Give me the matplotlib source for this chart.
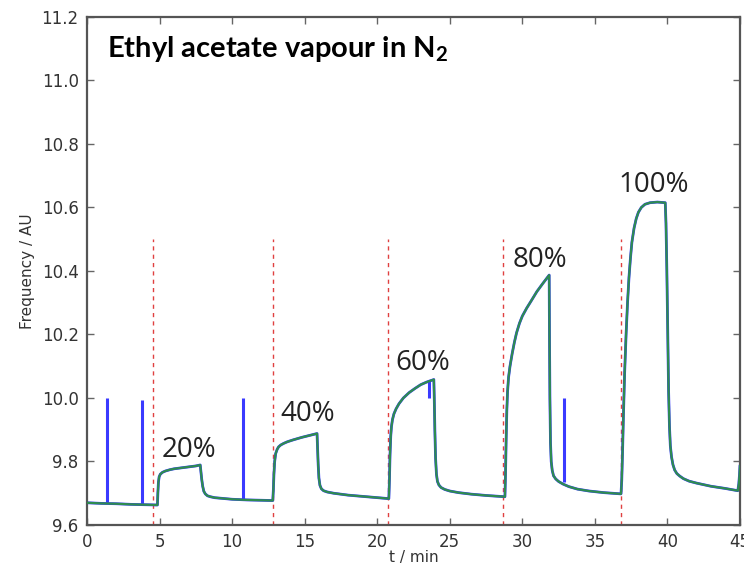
import matplotlib
matplotlib.use("Agg")
import matplotlib.pyplot as plt
import numpy as np

# frequency trace (t in min, frequency in AU)
t_trace = [0.0, 1.0, 2.0, 3.0, 4.0, 4.85,
           4.88, 4.92, 4.97, 5.05, 5.2, 5.4, 5.7, 6.0, 6.5, 7.0, 7.5, 7.8,
           7.84, 7.9, 7.97, 8.05, 8.15, 8.3, 8.5, 8.8, 9.3, 10.0, 11.0, 12.0, 12.8,
           12.84, 12.88, 12.93, 13.0, 13.1, 13.2, 13.35, 13.55, 13.8, 14.2, 14.8, 15.4, 15.85,
           15.88, 15.93, 15.98, 16.05, 16.15, 16.3, 16.55, 17.0, 18.0, 19.0, 20.0, 20.8,
           20.84, 20.88, 20.93, 20.98, 21.05, 21.15, 21.3, 21.5, 21.8, 22.2, 22.6, 23.0, 23.4, 23.9,
           23.93, 23.97, 24.02, 24.08, 24.15, 24.25, 24.4, 24.65, 25.0, 25.6, 26.5, 27.5, 28.8,
           28.84, 28.88, 28.93, 28.98, 29.05, 29.15, 29.3, 29.45, 29.6, 29.8, 30.0, 30.3,
           30.6, 31.0, 31.4, 31.85,
           31.87, 31.9, 31.94, 31.99, 32.06, 32.15, 32.3, 32.5, 32.8, 33.2, 33.8, 34.6,
           35.6, 36.8,
           36.85, 36.9, 36.97, 37.05, 37.15, 37.25, 37.35, 37.45, 37.55, 37.7, 37.85, 38.0,
           38.2, 38.45, 38.8, 39.3, 39.85,
           39.9, 39.96, 40.02, 40.08, 40.14, 40.2, 40.28, 40.38, 40.5, 40.65, 40.85, 41.1,
           41.5, 42.0, 43.0, 44.0, 44.85,
           44.92, 44.97, 45.0]
f_trace = [9.670, 9.668, 9.667, 9.665, 9.664, 9.663,
           9.700, 9.735, 9.752, 9.760, 9.766, 9.770, 9.774, 9.777, 9.780, 9.783, 9.786, 9.789,
           9.770, 9.745, 9.722, 9.706, 9.698, 9.692, 9.689, 9.686, 9.684, 9.681, 9.679, 9.678, 9.677,
           9.710, 9.760, 9.800, 9.825, 9.838, 9.846, 9.852, 9.857, 9.862, 9.868, 9.876, 9.883, 9.888,
           9.850, 9.790, 9.748, 9.725, 9.714, 9.708, 9.704, 9.700, 9.694, 9.690, 9.686, 9.683,
           9.740, 9.820, 9.880, 9.910, 9.932, 9.950, 9.966, 9.982, 10.000, 10.017, 10.030, 10.042,
           10.050, 10.058,
           10.000, 9.900, 9.810, 9.760, 9.737, 9.726, 9.718, 9.712, 9.707, 9.702, 9.697, 9.693, 9.689,
           9.760, 9.860, 9.960, 10.020, 10.065, 10.100, 10.140, 10.175, 10.205, 10.235, 10.258,
           10.283, 10.305, 10.335, 10.360, 10.387,
           10.200, 10.000, 9.860, 9.800, 9.772, 9.755, 9.745, 9.737, 9.729, 9.721, 9.713, 9.707,
           9.702, 9.698,
           9.740, 9.820, 9.950, 10.080, 10.200, 10.300, 10.380, 10.440, 10.490, 10.535, 10.565, 10.585,
           10.600, 10.610, 10.615, 10.617, 10.615,
           10.550, 10.400, 10.200, 10.020, 9.910, 9.850, 9.815, 9.790, 9.773, 9.762, 9.754, 9.746,
           9.738, 9.732, 9.722, 9.715, 9.708,
           9.730, 9.760, 9.785]

# glitches in the raw signal
spike_t = [1.38, 3.8, 10.72, 23.55, 32.9]
spike_lo = [9.668, 9.665, 9.680, 10.000, 9.735]
spike_hi = [10.000, 9.995, 10.000, 10.052, 10.000]

# gas switching times
switch_t = [4.55, 12.8, 20.76, 28.7, 36.8]
switch_top = 10.5

conc_labels = ["20%", "40%", "60%", "80%", "100%"]
label_t = [5.15, 13.3, 21.25, 29.3, 36.6]
label_f = [9.814, 9.928, 10.088, 10.413, 10.65]

plt.rcParams['mathtext.fontset'] = 'custom'
plt.rcParams['mathtext.rm'] = 'Lato:bold'

fig = plt.figure(figsize=(7.44, 5.65), dpi=100)
ax = fig.add_axes([0.117, 0.0708, 0.8776, 0.8992])

ax.plot(t_trace, f_trace, color='#3a3aff', lw=2.0, zorder=2)
ax.vlines(spike_t, spike_lo, spike_hi, color='#3a3aff', lw=2.2, zorder=2)
ax.plot(t_trace, f_trace, color='#2e8c50', lw=1.6, zorder=3)
ax.vlines(switch_t, 9.6, switch_top, color='#e04040', lw=1.0,
          linestyles=(0, (3, 3)), zorder=1)

for lab, tt, ff in zip(conc_labels, label_t, label_f):
    ax.text(tt, ff, lab, fontsize=20, family='Open Sans', color='#222222',
            va='baseline', ha='left')

ax.text(0.031, 0.921, r'Ethyl acetate vapour in N$_\mathregular{2}$',
        transform=ax.transAxes, fontsize=21, family='Lato', fontweight='bold',
        va='baseline', ha='left')

ax.set_xlim(0, 45)
ax.set_ylim(9.6, 11.2)
ax.set_xticks(np.arange(0, 50, 5))
ax.set_yticks(np.arange(9.6, 11.21, 0.2))
ax.set_yticklabels(["%.1f" % v for v in np.arange(9.6, 11.21, 0.2)])
ax.tick_params(direction='in', top=True, right=True, length=5, width=1,
               color='#666666', labelsize=12, labelcolor='#333333', pad=6)
for s in ax.spines.values():
    s.set_color('#555555')
    s.set_linewidth(1.6)

ax.set_xlabel('t / min', fontsize=11, color='#333333', labelpad=-1)
ax.set_ylabel('Frequency / AU', fontsize=11, color='#333333', labelpad=5)

fig.savefig('out.png', dpi=100)
